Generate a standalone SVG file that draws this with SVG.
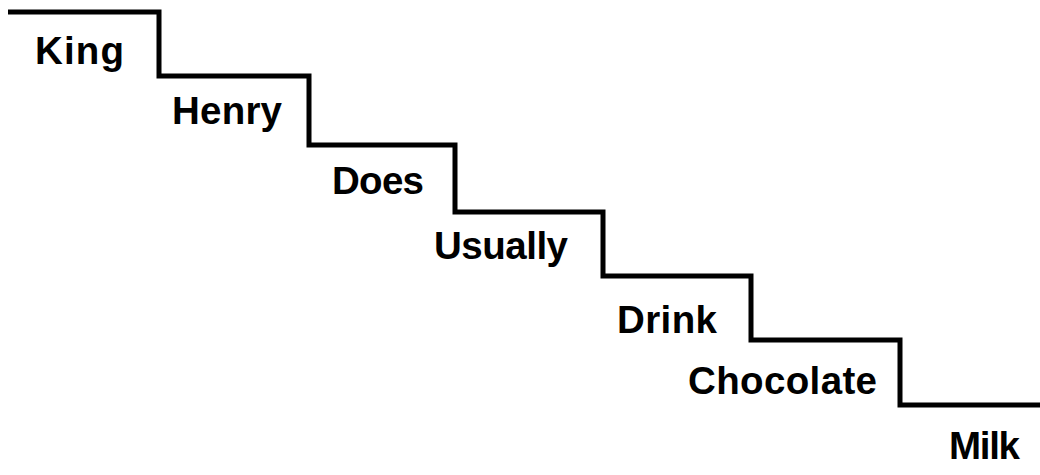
<svg xmlns="http://www.w3.org/2000/svg" width="1040" height="475" viewBox="0 0 1040 475">
<style>
.lbl{font-family:"Liberation Sans",Arial,sans-serif;font-weight:bold;font-size:38.5px;fill:#000}
.stair{fill:none;stroke:#000;stroke-width:5;stroke-linejoin:miter}
</style>
<rect width="1040" height="475" fill="#fff"/>
<g id="connectors">
<path class="stair" d="M8,12 H159 V76 H309 V145 H455 V212 H603 V276 H751 V340 H900 V405 H1040"/>
</g>
<g id="king"><text class="lbl" x="35" y="64" textLength="89">King</text></g>
<g id="henry"><text class="lbl" x="172" y="124" textLength="110">Henry</text></g>
<g id="does"><text class="lbl" x="332" y="194" textLength="92">Does</text></g>
<g id="usually"><text class="lbl" x="434" y="259" textLength="134">Usually</text></g>
<g id="drink"><text class="lbl" x="617" y="333" textLength="100">Drink</text></g>
<g id="chocolate"><text class="lbl" x="688" y="394" textLength="189">Chocolate</text></g>
<g id="milk"><text class="lbl" x="949" y="459" textLength="71">Milk</text></g>
</svg>
